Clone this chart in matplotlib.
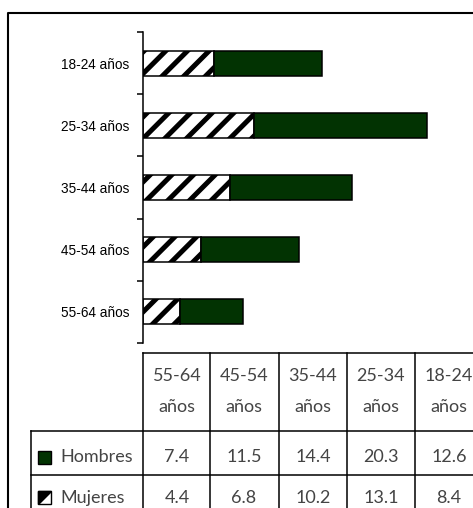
import matplotlib
matplotlib.use('Agg')
import matplotlib.pyplot as plt
from matplotlib.lines import Line2D
from matplotlib.patches import Rectangle, Polygon

categories = ['18-24 años', '25-34 años', '35-44 años', '45-54 años', '55-64 años']
hombres = [12.6, 20.3, 14.4, 11.5, 7.4]
mujeres = [8.4, 13.1, 10.2, 6.8, 4.4]
series_names = ['Hombres', 'Mujeres']

W, H = 473, 508
DPI = 130  # higher dpi only to get the wider hatch spacing of the original
GREEN = '#023302'
TXT = '#444444'


def pt(v):
    # sizes below are tuned as if at 100 dpi
    return v * 100 / DPI


plt.rcParams['hatch.linewidth'] = pt(3.6)
plt.rcParams['font.family'] = ['Liberation Sans', 'DejaVu Sans']


def fx(px):
    return px / W


def fy(py):
    return 1 - py / H


fig = plt.figure(figsize=(W / DPI, H / DPI), dpi=DPI)

# plot area
ax = fig.add_axes([fx(143), fy(343), fx(473) - fx(143), fy(32) - fy(343)])
y = list(range(len(categories)))
ax.barh(y, mujeres, height=0.4, color='white', edgecolor='black', hatch='//', linewidth=pt(1.1))
ax.barh(y, hombres, left=mujeres, height=0.4, color=GREEN, edgecolor='black', linewidth=pt(1.1))
ax.set_ylim(len(categories) - 0.5, -0.5)
ax.set_xlim(0, 330 / 8.5)
for s in ('top', 'right', 'bottom'):
    ax.spines[s].set_visible(False)
ax.spines['left'].set_linewidth(pt(1.1))
ax.set_xticks([])
ax.set_yticks(y)
ax.set_yticklabels(categories, fontsize=pt(9.8), color='black')
ax.tick_params(axis='y', which='major', length=0, pad=pt(10))
ax.set_yticks([i - 0.5 for i in range(len(categories) + 1)], minor=True)
ax.tick_params(axis='y', which='minor', length=pt(4), width=pt(1.1), direction='out')

# outer frame (runs off the right and bottom edges)
fig.add_artist(Line2D([fx(8), fx(8), fx(480)], [fy(520), fy(13), fy(13)],
                      color='black', lw=pt(1.5), transform=fig.transFigure))

# data table
lw_t = pt(1.1)
cols = [143, 210, 279, 347, 415]
col_w = 68
top, r1, r2, bottom = 353, 431, 475, 520


def hline(yp, x0, x1):
    fig.add_artist(Line2D([fx(x0), fx(x1)], [fy(yp), fy(yp)], color='black', lw=lw_t,
                          transform=fig.transFigure))


def vline(xp, y0, y1):
    fig.add_artist(Line2D([fx(xp), fx(xp)], [fy(y0), fy(y1)], color='black', lw=lw_t,
                          transform=fig.transFigure))


hline(top, 143, 480)
hline(r1, 31, 480)
hline(r2, 31, 480)
for c in cols:
    vline(c, top, bottom)
vline(31, r1, bottom)

tfont = dict(family=['Lato', 'DejaVu Sans'], fontweight='normal', fontsize=pt(13), color=TXT)
order = list(reversed(range(len(categories))))
for j, i in enumerate(order):
    cx = cols[j] + col_w / 2
    rng, word = categories[i].split(' ')
    fig.text(fx(cx), fy(376), rng, ha='center', va='center', **tfont)
    fig.text(fx(cx), fy(407), word, ha='center', va='center', **tfont)
    fig.text(fx(cx), fy(457), f'{hombres[i]:.1f}', ha='center', va='center', **tfont)
    fig.text(fx(cx), fy(498), f'{mujeres[i]:.1f}', ha='center', va='center', **tfont)

# row labels with legend keys
fig.text(fx(60), fy(457), series_names[0], ha='left', va='center', **tfont)
fig.text(fx(60), fy(498), series_names[1], ha='left', va='center', **tfont)
k = 13
fig.add_artist(Rectangle((fx(38), fy(464)), fx(k), k / H, facecolor=GREEN, edgecolor='black',
                         lw=pt(1), transform=fig.transFigure))
fig.add_artist(Rectangle((fx(38), fy(504)), fx(k), k / H, facecolor='white', edgecolor='black',
                         lw=pt(1), transform=fig.transFigure))
fig.add_artist(Polygon([(fx(38), fy(504)), (fx(38), fy(491)), (fx(51), fy(491))],
                       closed=True, facecolor='black', edgecolor='black', lw=pt(1),
                       transform=fig.transFigure))

fig.savefig('out.png', dpi=DPI)
